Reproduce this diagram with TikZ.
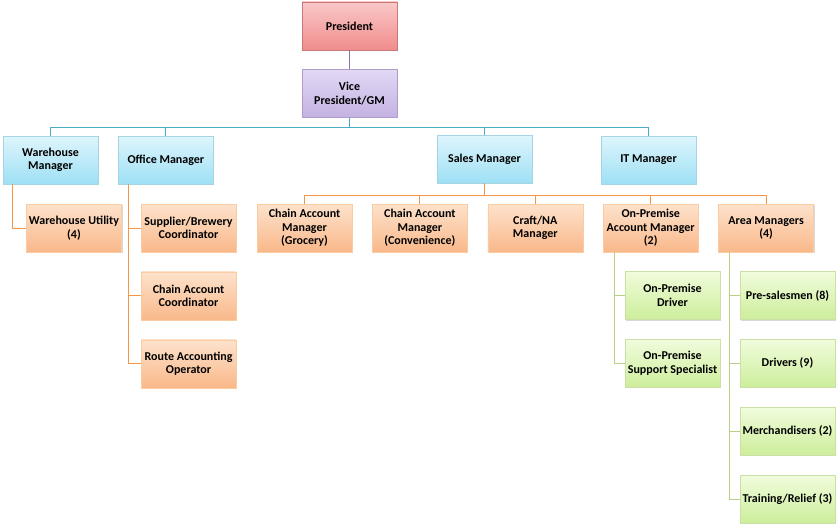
\documentclass[tikz,border=0pt]{standalone}
\usepackage{fontspec}
\setmainfont{Carlito}
\usetikzlibrary{positioning,shadows}
\definecolor{redtop}{RGB}{250,200,200}
\definecolor{redbot}{RGB}{240,140,140}
\definecolor{redline}{RGB}{200,120,120}
\definecolor{purtop}{RGB}{226,216,244}
\definecolor{purbot}{RGB}{196,178,226}
\definecolor{purline}{RGB}{140,115,175}
\definecolor{bluetop}{RGB}{222,245,252}
\definecolor{bluebot}{RGB}{158,224,245}
\definecolor{blueline}{RGB}{75,172,198}
\definecolor{ortop}{RGB}{253,226,204}
\definecolor{orbot}{RGB}{249,184,138}
\definecolor{orline}{RGB}{247,150,70}
\definecolor{grtop}{RGB}{240,252,220}
\definecolor{grbot}{RGB}{205,238,155}
\definecolor{grline}{RGB}{180,210,130}
\begin{document}
\begin{tikzpicture}[x=1pt,y=-1pt,node distance=19.5pt and 20pt]
  \tikzset{box/.style={minimum width=95pt,minimum height=48pt,inner sep=1pt,align=center,
    font=\fontsize{12}{13.5}\selectfont\bfseries,
    drop shadow={opacity=0.3,shadow xshift=1pt,shadow yshift=-1pt}}}
  \tikzset{redbox/.style={box,draw=redline,top color=redtop,bottom color=redbot}}
  \tikzset{purbox/.style={box,draw=purline!70,top color=purtop,bottom color=purbot}}
  \tikzset{bluebox/.style={box,draw=blueline!50,top color=bluetop,bottom color=bluebot}}
  \tikzset{orbox/.style={box,draw=orline!50,top color=ortop,bottom color=orbot}}
  \tikzset{grbox/.style={box,draw=grline!70,top color=grtop,bottom color=grbot}}
  \tikzset{link/.style={line width=0.9pt}}
  \useasboundingbox[fill=white] (0,0) rectangle (840,527);
  % top
  \node[redbox] (pres) at (349.5,26) {President};
  \node[purbox,below=19pt of pres] (vp) {Vice\\President/GM};
  % managers
  \node[bluebox] (wm) at (50.5,160) {Warehouse\\Manager};
  \node[bluebox,right=of wm] (om) {Office Manager};
  \node[bluebox] (sm) at (484.5,159) {Sales Manager};
  \node[bluebox] (itm) at (648.5,160) {IT Manager};
  % warehouse and office staff
  \node[orbox] (wu) at (74,228) {Warehouse Utility\\(4)};
  \node[orbox] (sb) at (188.5,228) {Supplier/Brewery\\Coordinator};
  \node[orbox,below=of sb] (cac) {Chain Account\\Coordinator};
  \node[orbox,below=of cac] (rao) {Route Accounting\\Operator};
  % sales staff
  \node[orbox] (cag) at (304.5,228) {Chain Account\\Manager\\(Grocery)};
  \node[orbox,right=of cag] (cav) {Chain Account\\Manager\\(Convenience)};
  \node[orbox,right=of cav] (cna) {Craft/NA\\Manager};
  \node[orbox,right=of cna] (opm) {On-Premise\\Account Manager\\(2)};
  \node[orbox,right=of opm] (am) {Area Managers\\(4)};
  % field staff
  \node[grbox] (opd) at (672.5,295.5) {On-Premise\\Driver};
  \node[grbox,below=of opd] (ops) {On-Premise\\Support Specialist};
  \node[grbox] (psm) at (787.5,295.5) {Pre-salesmen (8)};
  \node[grbox,below=of psm] (drv) {Drivers (9)};
  \node[grbox,below=of drv] (mer) {Merchandisers (2)};
  \node[grbox,below=of mer] (trn) {Training/Relief (3)};
  % connectors
  \draw[link,purline] (pres) -- (vp);
  \foreach \n in {wm,om,sm,itm}
    \draw[link,blueline] (vp.south) -- ++(0,10) -| (\n);
  \draw[link,orline] ([xshift=10pt]wm.south west) |- (wu);
  \foreach \n in {sb,cac,rao}
    \draw[link,orline] ([xshift=10pt]om.south west) |- (\n);
  \foreach \n in {cag,cav,cna,opm,am}
    \draw[link,orline] (sm.south) -- ++(0,12) -| (\n);
  \foreach \n in {opd,ops}
    \draw[link,grline] ([xshift=11pt]opm.south west) |- (\n);
  \foreach \n in {psm,drv,mer,trn}
    \draw[link,grline] ([xshift=11pt]am.south west) |- (\n);
\end{tikzpicture}
\end{document}
